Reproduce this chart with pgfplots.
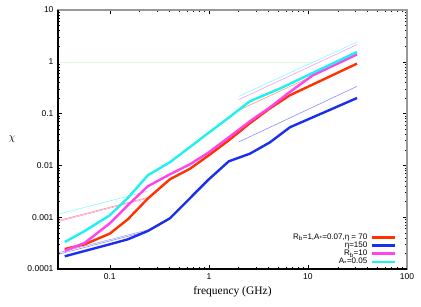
\documentclass[border=0pt]{standalone}
\usepackage{fontspec}
\setmainfont{Liberation Sans}
\newfontfamily\seriffont{Liberation Serif}
\usepackage{pgfplots}
\pgfplotsset{compat=1.18}
\definecolor{cred}{HTML}{FF3300}
\definecolor{cblue}{HTML}{1A2EF0}
\definecolor{cmag}{HTML}{FF44EE}
\definecolor{ccyan}{HTML}{22F0F0}
\definecolor{tcyan}{HTML}{80FFFF}
\definecolor{tpink}{HTML}{FF99F5}
\definecolor{tsalmon}{HTML}{FF9980}
\definecolor{tblue}{HTML}{8C8CFF}
\definecolor{tviolet}{HTML}{A8A8F0}
\definecolor{tgreen}{HTML}{DDF8DD}
\begin{document}
\begin{tikzpicture}
\begin{axis}[
  name=ax,
  scale only axis,
  width=349pt, height=259pt,
  xmode=log, ymode=log,
  xmin=0.03, xmax=100, ymin=0.0001, ymax=10,
  xtick={0.1,1,10,100}, xticklabels={0.1,1,10,100},
  ytick={0.0001,0.001,0.01,0.1,1,10},
  yticklabels={0.0001,0.001,0.01,0.1,1,10},
  tick align=inside,
  major tick length=4pt, minor tick length=2pt,
  tick style={black, line width=0.5pt},
  ticklabel style={font=\fontsize{8.5}{10}\selectfont},
  xticklabel style={yshift=-1pt},
  yticklabel style={xshift=-1pt},
  axis line style={draw=gray!80, line width=1.2pt},
  xlabel={\seriffont frequency (GHz)},
  xlabel style={font=\fontsize{11.5}{13}\selectfont, at={(axis description cs:0.5,-0.097)}, anchor=base},
  ylabel={$\chi$},
  ylabel style={font=\fontsize{11}{13}\selectfont, at={(axis description cs:-0.132,0.5)}, rotate=-90, anchor=center},
  legend cell align=right,
  legend plot pos=right,
  legend image code/.code={\draw[#1] (0pt,0pt) -- (23pt,0pt);},
  legend style={draw=none, fill=none, at={(axis description cs:0.971,0.0116)}, anchor=south east,
    font=\fontsize{8}{9}\selectfont, inner sep=0pt, row sep=0pt, column sep=4pt,
    nodes={inner sep=0pt, text height=6pt, text depth=2.1pt}},
]
% reference lines
\addplot[tgreen, line width=0.6pt, forget plot] coordinates {(0.03,1) (11,1)};
\addplot[tcyan, line width=0.6pt, forget plot] coordinates {(0.03,1.14e-3) (0.244,3.2e-3)};
\addplot[tsalmon, line width=0.6pt, forget plot] coordinates {(0.03,8.6e-4) (0.244,2.42e-3)};
\addplot[tpink, line width=0.6pt, forget plot] coordinates {(0.03,8.2e-4) (0.244,2.33e-3)};
\addplot[tviolet, line width=0.6pt, forget plot] coordinates {(0.03,2.05e-4) (0.244,5.7e-4)};
\addplot[tblue, line width=0.6pt, forget plot] coordinates {(0.03,1.92e-4) (0.244,5.4e-4)};
\addplot[tcyan, line width=0.6pt, forget plot] coordinates {(2.0,0.215) (31.3,2.41)};
\addplot[tpink, line width=0.6pt, forget plot] coordinates {(2.0,0.186) (31.3,2.15)};
\addplot[tsalmon, line width=0.6pt, forget plot] coordinates {(2.0,0.116) (31.3,1.33)};
\addplot[tblue, line width=0.6pt, forget plot] coordinates {(2.0,0.0283) (31.3,0.336)};
% main curves
\addplot[cred, line width=2.4pt] coordinates {
 (0.0351,2.43e-4) (0.0559,3.0e-4) (0.1,4.82e-4) (0.152,9.1e-4) (0.242,2.29e-3)
 (0.404,5.39e-3) (0.644,8.6e-3) (1.0,0.0157) (1.59,0.0305) (2.59,0.065)
 (4.14,0.1265) (6.57,0.2256) (31.3,0.923)};
\addlegendentry{R\textsubscript{b}=1,A\textsubscript{*}=0.07,η = 70}
\addplot[cblue, line width=2.4pt] coordinates {
 (0.0351,1.76e-4) (0.0559,2.23e-4) (0.1,3.0e-4) (0.152,3.74e-4) (0.242,5.42e-4)
 (0.404,9.5e-4) (0.644,2.32e-3) (1.0,5.39e-3) (1.59,0.012) (2.59,0.0168)
 (4.14,0.0279) (6.57,0.0544) (31.3,0.2)};
\addlegendentry{η=150}
\addplot[cmag, line width=2.4pt] coordinates {
 (0.0351,2.25e-4) (0.0559,3.2e-4) (0.1,7.62e-4) (0.152,1.70e-3) (0.242,3.95e-3)
 (0.404,6.73e-3) (0.644,0.0105) (1.0,0.0179) (1.59,0.0349) (2.59,0.071)
 (4.14,0.1323) (6.57,0.262) (11.2,0.548) (31.3,1.396)};
\addlegendentry{R\textsubscript{b}=10}
\addplot[ccyan, line width=2.4pt] coordinates {
 (0.0351,3.32e-4) (0.0559,5.42e-4) (0.1,1.09e-3) (0.152,2.35e-3) (0.242,6.44e-3)
 (0.404,0.0115) (0.644,0.0226) (1.0,0.043) (1.59,0.0837) (2.59,0.173)
 (5.2,0.304) (31.3,1.55)};
\addlegendentry{A\textsubscript{*}=0.05}
\end{axis}
\draw[black, line width=1.2pt] (ax.north west) -- (ax.south west) -- (ax.south east);
\path[use as bounding box] ([xshift=-58pt,yshift=-37pt]ax.south west) rectangle ([xshift=14pt,yshift=10pt]ax.north east);
\end{tikzpicture}
\end{document}
